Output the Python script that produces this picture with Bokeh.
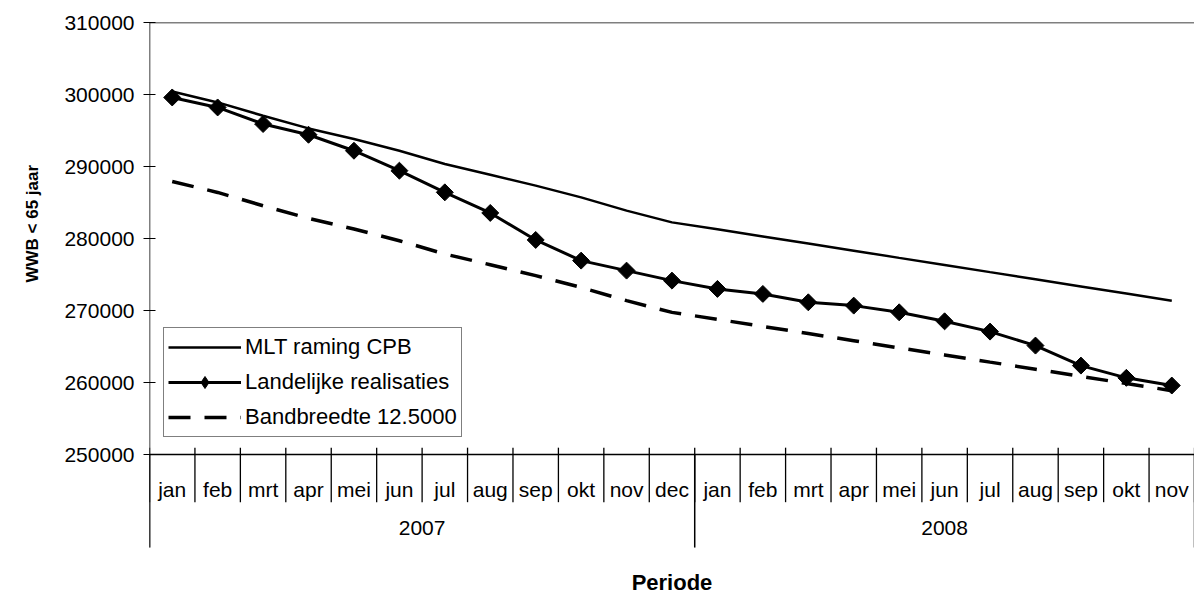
import math
from bokeh.plotting import figure
from bokeh.models import (FactorRange, Range1d, FixedTicker, Legend, LegendItem, Title,
                          Span, BasicTickFormatter)
from bokeh.embed import file_html
from bokeh.resources import INLINE

# ---------------- data ----------------
years = ["2007"] * 12 + ["2008"] * 11
months = ["jan", "feb", "mrt", "apr", "mei", "jun", "jul", "aug", "sep", "okt", "nov", "dec",
          "jan", "feb", "mrt", "apr", "mei", "jun", "jul", "aug", "sep", "okt", "nov"]
mlt_raming = [300420, 298900, 297050, 295290, 293820, 292190, 290350, 288860, 287340, 285710, 283870, 282240,
              281280, 280290, 279300, 278310, 277310, 276330, 275330, 274350, 273350, 272360, 271370]
realisaties = [299590, 298200, 295900, 294410, 292190, 289420, 286410, 283550, 279800, 276930, 275540, 274150,
               273000, 272300, 271140, 270680, 269750, 268500, 267070, 265130, 262350, 260650, 259580]
bandbreedte = [287920, 286400, 284550, 282790, 281320, 279690, 277850, 276360, 274840, 273210, 271370, 269740,
               268780, 267790, 266800, 265810, 264810, 263830, 262830, 261850, 260850, 259860, 258870]
y_ticks = [250000, 260000, 270000, 280000, 290000, 300000, 310000]
series_labels = ["MLT raming CPB", "Landelijke realisaties", "Bandbreedte 12.5000"]
y_title = "WWB < 65 jaar"
x_title = "Periode"

FONT = "Liberation Sans"
factors = list(zip(years, months))
y_min, y_max = y_ticks[0], y_ticks[-1]
y_floor = 230420      # bottom of the canvas (frame extends down to hold the category axis)
y_sep_end = 237080    # bottom of the year separators / vertical axis line

p = figure(width=1194, height=595,
           x_range=FactorRange(*factors, group_padding=0, factor_padding=0,
                               subgroup_padding=0, range_padding=0),
           y_range=Range1d(y_floor, y_max),
           output_backend="svg", toolbar_location=None,
           min_border_left=149, min_border_right=0, min_border_top=22, min_border_bottom=0)
p.outline_line_color = None
p.grid.visible = False
p.background_fill_color = "white"
p.border_fill_color = "white"

# x axis (categorical, fixed at the 250000 level)
xa = p.xaxis[0]
xa.fixed_location = y_min
xa.major_tick_line_color = None
xa.minor_tick_line_color = None
xa.axis_line_color = "black"
xa.axis_line_width = 1.5
xa.major_label_text_font = FONT
xa.major_label_text_font_size = "21px"
xa.major_label_text_color = "black"
xa.major_label_standoff = 17
xa.major_label_orientation = "horizontal"
xa.group_text_font = FONT
xa.group_text_font_size = "21px"
xa.group_text_font_style = "normal"
xa.group_text_color = "black"
xa.group_label_orientation = "horizontal"
xa.separator_line_color = None
xa.axis_label = x_title
xa.axis_label_text_font = FONT
xa.axis_label_text_font_size = "22px"
xa.axis_label_text_font_style = "bold"
xa.axis_label_text_color = "black"
xa.axis_label_standoff = 32

# y axis
ya = p.yaxis[0]
ya.ticker = FixedTicker(ticks=y_ticks)
ya.formatter = BasicTickFormatter(use_scientific=False)
ya.major_tick_in = 6
ya.major_tick_out = 6
ya.major_tick_line_color = "black"
ya.minor_tick_line_color = None
ya.axis_line_color = None
ya.major_label_standoff = 9
ya.major_label_text_font = FONT
ya.major_label_text_font_size = "21px"
ya.major_label_text_color = "black"

# top border of plot area
p.add_layout(Span(location=y_max, dimension="width", line_color="black", line_width=1.5))

# category separators below the axis
n = len(factors)
bounds = list(range(n + 1))
p.segment(x0=bounds, y0=[y_min + 950] * len(bounds), x1=bounds, y1=[243380] * len(bounds),
          line_color="black", line_width=1.3)
year_bounds = [0] + [i for i in range(1, n) if years[i] != years[i - 1]] + [n]
p.segment(x0=year_bounds, y0=[y_min] * len(year_bounds), x1=year_bounds, y1=[y_sep_end] * len(year_bounds),
          line_color="black", line_width=1.5)
# vertical value-axis line (from the top border down to the year separators)
p.segment(x0=[0], y0=[y_max], x1=[0], y1=[y_sep_end], line_color="black", line_width=1.5)

# series
r_mlt = p.line(factors, mlt_raming, line_color="black", line_width=2.5)
r_real = p.line(factors, realisaties, line_color="black", line_width=3)
r_real_leg = p.scatter(factors, realisaties, marker="diamond", size=12,
                       fill_color="black", line_color="black", line_width=1)
r_real_pts = p.scatter(factors, realisaties, marker="square", angle=math.pi / 4, size=12,
                       fill_color="black", line_color="black", line_width=1)
r_band = p.line(factors, bandbreedte, line_color="black", line_width=3.5, line_dash="22 14")

legend = Legend(items=[LegendItem(label=series_labels[0], renderers=[r_mlt]),
                       LegendItem(label=series_labels[1], renderers=[r_real, r_real_leg]),
                       LegendItem(label=series_labels[2], renderers=[r_band])],
                location=(14, 158), orientation="vertical",
                border_line_color="black", border_line_width=1.5,
                background_fill_color="white", background_fill_alpha=1,
                glyph_width=73, glyph_height=30, label_height=24, label_standoff=4,
                spacing=5, padding=4, margin=0,
                label_text_font=FONT, label_text_font_size="22px", label_text_color="black")
p.add_layout(legend, "center")

p.add_layout(Title(text=y_title, align="left", offset=313, text_font=FONT, text_font_size="17px",
                   text_font_style="bold", text_color="black", standoff=40), "left")

open("out.html", "w").write(file_html(p, INLINE))
